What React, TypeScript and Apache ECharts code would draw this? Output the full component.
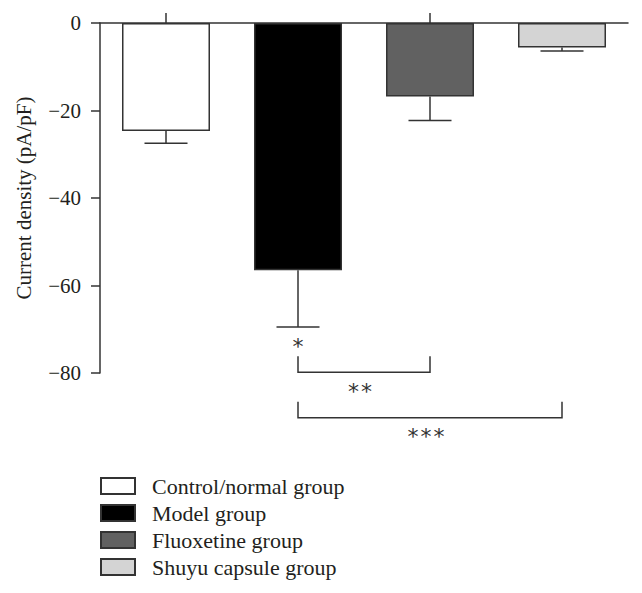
import React, { useEffect, useRef } from "react";
import * as echarts from "echarts";

const categories = ["Control/normal group", "Model group", "Fluoxetine group", "Shuyu capsule group"];
const meanValues = [-24.7, -56.5, -16.8, -5.6];
const errorEnds = [-27.5, -69.5, -22.3, -6.4];
const barColors = ["#ffffff", "#000000", "#616161", "#d4d4d4"];
const yTicks = [0, -20, -40, -60, -80];
const sigFrom = [1, 1, 1];
const sigTo = [1, 2, 3];
const sigY = [-69.5, -79.8, -90.2];
const sigLabels = ["*", "**", "***"];

const LINE = "#333333";
const SERIF = "'Liberation Serif', 'Times New Roman', serif";

export default function App() {
  const ref = useRef<HTMLDivElement>(null);
  useEffect(() => {
    if (!ref.current) return;
    const chart = echarts.init(ref.current, undefined, { renderer: "svg" });
    const barSeries = categories.map((name, i) => ({
      name,
      type: "bar",
      data: categories.map((_, j) => (j === i ? meanValues[i] : "-")),
      barWidth: 88,
      barGap: "-100%",
      itemStyle: { color: barColors[i], borderColor: LINE, borderWidth: 1.5 },
      z: 2,
    }));
    const option: any = {
      animation: false,
      grid: { left: 100, right: 14, top: 23, bottom: 220, containLabel: false },
      legend: {
        orient: "vertical",
        left: 100,
        top: 475,
        padding: 0,
        itemWidth: 34,
        itemHeight: 16,
        itemGap: 5,
        icon: "rect",
        selectedMode: false,
        data: categories,
        textStyle: { fontFamily: SERIF, fontSize: 22, color: "#231f20", padding: [0, 0, 0, 12] },
      },
      xAxis: {
        type: "category",
        position: "top",
        data: categories,
        axisLine: { lineStyle: { color: LINE, width: 1.5 } },
        axisTick: { show: true, alignWithLabel: true, length: 10, lineStyle: { color: LINE, width: 1.5 } },
        axisLabel: { show: false },
        splitLine: { show: false },
      },
      yAxis: {
        type: "value",
        min: -80,
        max: 0,
        interval: 20,
        name: "Current density (pA/pF)",
        nameLocation: "middle",
        nameGap: 66,
        nameTextStyle: { fontFamily: SERIF, fontSize: 21, color: "#231f20" },
        axisLine: { show: true, lineStyle: { color: LINE, width: 1.5 } },
        axisTick: { show: true, length: 9, lineStyle: { color: LINE, width: 1.5 } },
        axisLabel: {
          margin: 19,
          fontFamily: SERIF,
          fontSize: 21,
          color: "#231f20",
          formatter: (v: number) => (yTicks.includes(v) ? String(v).replace("-", "\u2212") : ""),
        },
        splitLine: { show: false },
      },
      series: [
        ...barSeries,
        {
          type: "custom",
          name: "errors",
          z: 3,
          clip: false,
          data: meanValues.map((m, i) => [i, m, errorEnds[i]]),
          renderItem: (params: any, api: any) => {
            const i = api.value(0);
            const p0 = api.coord([i, api.value(1)]);
            const p1 = api.coord([i, api.value(2)]);
            const half = 21.5;
            const style = { stroke: LINE, lineWidth: 1.5 };
            return {
              type: "group",
              children: [
                { type: "line", shape: { x1: p0[0], y1: p0[1], x2: p1[0], y2: p1[1] }, style },
                { type: "line", shape: { x1: p1[0] - half, y1: p1[1], x2: p1[0] + half, y2: p1[1] }, style },
              ],
            };
          },
        },
        {
          type: "custom",
          name: "significance",
          z: 3,
          clip: false,
          data: sigFrom.map((f, i) => [f, sigTo[i], sigY[i], i]),
          renderItem: (params: any, api: any) => {
            const f = api.value(0);
            const t = api.value(1);
            const y = api.value(2);
            const idx = api.value(3);
            const pa = api.coord([f, y]);
            const pb = api.coord([t, y]);
            const style = { stroke: LINE, lineWidth: 1.5 };
            const children: any[] = [];
            if (f !== t) {
              children.push({
                type: "polyline",
                shape: { points: [[pa[0], pa[1] - 16], [pa[0], pa[1]], [pb[0], pb[1]], [pb[0], pb[1] - 16]] },
                style: { ...style, fill: "none" },
              });
            }
            const label = sigLabels[idx];
            const n = label.length;
            const cx = (pa[0] + pb[0]) / 2 - (f !== t ? 4 : 0);
            for (let k = 0; k < n; k++) {
              children.push({
                type: "text",
                x: cx + 13 * (k - (n - 1) / 2),
                y: pa[1] + 19,
                style: {
                  text: "*",
                  fill: "#333333",
                  fontFamily: "'DejaVu Sans', sans-serif",
                  fontSize: 22,
                  align: "center",
                  verticalAlign: "middle",
                },
              });
            }
            return { type: "group", children };
          },
        },
      ],
    };
    chart.setOption(option);
    return () => chart.dispose();
  }, []);
  return <div ref={ref} style={{ width: 642, height: 593, position: "absolute", left: 0, top: 0 }} />;
}
